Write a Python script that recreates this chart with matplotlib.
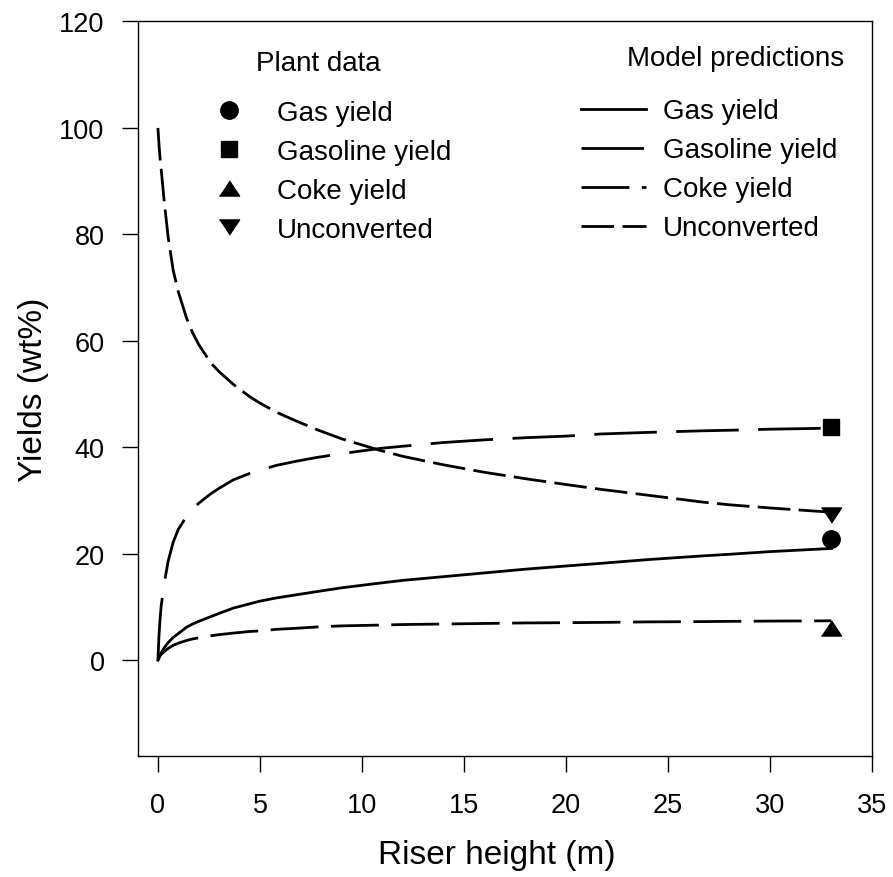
import numpy as np
import matplotlib
matplotlib.use("Agg")
import matplotlib.pyplot as plt

plt.rcParams['font.family'] = ['Liberation Sans', 'DejaVu Sans']
plt.rcParams['lines.scale_dashes'] = False

# model predictions along the riser
x_model = [0, 0.05, 0.1, 0.16, 0.3, 0.5, 0.75, 1.0, 1.4, 1.7, 2.0, 2.6, 3.0, 3.7, 4.5,
           5.0, 5.8, 6.8, 7.8, 9.0, 10.9, 12, 14, 16, 18, 20, 21.7, 24, 26.7, 28, 30, 33]
gas = [0, 0.6, 1.0, 1.4, 2.3, 3.3, 4.3, 5.0, 6.2, 6.8, 7.3, 8.2, 8.8, 9.8, 10.6,
       11.1, 11.7, 12.3, 12.9, 13.6, 14.5, 15.0, 15.7, 16.4, 17.1, 17.7, 18.2, 18.9, 19.6, 19.9, 20.4, 21.0]
gasoline = [0, 4.5, 7.5, 10.2, 14.2, 18.6, 22.2, 24.6, 27.0, 28.3, 29.5, 31.3, 32.3, 33.9, 35.1,
            35.7, 36.6, 37.4, 38.1, 38.8, 39.8, 40.2, 40.9, 41.4, 41.8, 42.1, 42.5, 42.8, 43.1, 43.2, 43.4, 43.6]
coke = [0, 0.4, 0.8, 1.1, 1.6, 2.2, 2.8, 3.2, 3.7, 4.0, 4.2, 4.6, 4.8, 5.1, 5.4,
        5.5, 5.8, 6.0, 6.25, 6.45, 6.6, 6.7, 6.8, 6.9, 7.0, 7.05, 7.1, 7.2, 7.25, 7.3, 7.35, 7.4]
unconverted = [100, 97.0, 94.5, 92.2, 86.5, 79.5, 73.2, 69.2, 64.3, 61.5, 59.3, 55.8, 54.2, 51.8, 49.5,
               48.3, 46.6, 44.9, 43.3, 41.6, 39.4, 38.3, 36.7, 35.3, 34.1, 33.0, 32.1, 31.0, 29.7, 29.2, 28.6, 27.8]

# plant data at the riser outlet
x_plant = [33]
gas_plant = [22.8]
gasoline_plant = [43.8]
coke_plant = [6.0]
unconverted_plant = [27.2]

x_ticks = [0, 5, 10, 15, 20, 25, 30, 35]
y_ticks = [0, 20, 40, 60, 80, 100, 120]

fig = plt.figure(figsize=(8.93, 8.78), dpi=100)
ax = fig.add_axes([0.154, 0.1378, 0.8228, 0.8366])

lw = 2.0
l_gas, = ax.plot(x_model, gas, color='k', lw=lw, ls='-', label='Gas yield')
l_gasoline, = ax.plot(x_model, gasoline, color='k', lw=lw, ls=(0, (45, 14)), label='Gasoline yield')
l_coke, = ax.plot(x_model, coke, color='k', lw=lw, ls=(0, (34.5, 9)), label='Coke yield')
l_unconv, = ax.plot(x_model, unconverted, color='k', lw=lw, ls=(0, (23.5, 6)), label='Unconverted')

tri_up = [(-1, -0.75), (1, -0.75), (0, 0.75)]
tri_down = [(-1, 0.75), (1, 0.75), (0, -0.75)]
m_gas, = ax.plot(x_plant, gas_plant, 'o', color='k', ms=12.5, label='Gas yield')
m_gasoline, = ax.plot(x_plant, gasoline_plant, 's', color='k', ms=11.5, label='Gasoline yield')
m_coke, = ax.plot(x_plant, coke_plant, marker=tri_up, ls='none', color='k', ms=14.5, label='Coke yield')
m_unconv, = ax.plot(x_plant, unconverted_plant, marker=tri_down, ls='none', color='k', ms=14.5, label='Unconverted')

ax.set_xlim(-1, 35)
ax.set_ylim(-18, 120)
ax.set_xticks(x_ticks)
ax.set_yticks(y_ticks)
ax.tick_params(direction='out', length=11.2, width=1.0, labelsize=19.5, colors='k')
ax.tick_params(axis='x', pad=15)
ax.tick_params(axis='y', pad=12.5)
for s in ax.spines.values():
    s.set_linewidth(1.0)

ax.set_xlabel('Riser height (m)', fontsize=24)
ax.set_ylabel('Yields (wt%)', fontsize=24)
ax.xaxis.set_label_coords(0.489, -0.113)
ax.yaxis.set_label_coords(-0.121, 0.5)

# two legends: plant data (markers) and model predictions (lines)
leg1 = ax.legend(handles=[m_gas, m_gasoline, m_coke, m_unconv], loc='upper left',
                 bbox_to_anchor=(0.1055, 0.8932), frameon=False, fontsize=20,
                 handlelength=1.0, handletextpad=1.23, labelspacing=0.47,
                 borderpad=0, borderaxespad=0, numpoints=1)
ax.add_artist(leg1)
ax.legend(handles=[l_gas, l_gasoline, l_coke, l_unconv], loc='upper left',
          bbox_to_anchor=(0.6036, 0.8955), frameon=False, fontsize=20,
          handlelength=2.34, handletextpad=0.61, labelspacing=0.47,
          borderpad=0, borderaxespad=0)

ax.text(0.2456, 0.9435, 'Plant data', transform=ax.transAxes, fontsize=20,
        ha='center', va='center')
ax.text(0.8146, 0.9503, 'Model predictions', transform=ax.transAxes, fontsize=20,
        ha='center', va='center')

fig.savefig('out.png', dpi=100)
